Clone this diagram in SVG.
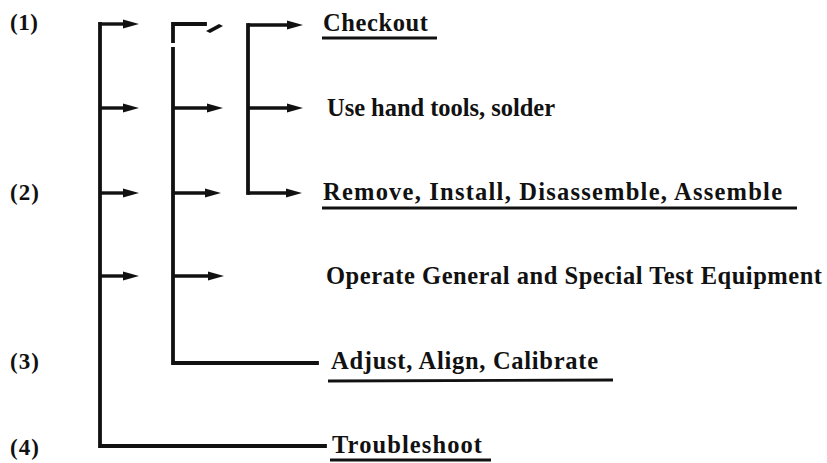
<svg xmlns="http://www.w3.org/2000/svg" width="827" height="463" viewBox="0 0 827 463">
  <style>
    .t { font-family: "Liberation Serif", "Times New Roman", serif; font-weight: bold; font-size: 24.5px; fill: #111; }
    .n { font-family: "Liberation Serif", "Times New Roman", serif; font-weight: bold; font-size: 23px; fill: #111; }
    .ln { stroke: #111; stroke-width: 3.8; fill: none; stroke-linecap: square; }
    .ar { stroke: #111; stroke-width: 3.4; fill: none; marker-end: url(#ah); }
    .ul { stroke: #111; stroke-width: 2.8; }
  </style>
  <defs>
    <marker id="ah" viewBox="0 0 16 10" refX="7" refY="5" markerWidth="16" markerHeight="10" markerUnits="userSpaceOnUse" orient="auto">
      <path d="M0,0.5 L16,5 L0,9.5 Z" fill="#111"/>
    </marker>
  </defs>
  <rect width="827" height="463" fill="#fff"/>

  <g id="connectors">
    <!-- column 1 -->
    <path class="ln" d="M100,24 L100,446 L325,446"/>
    <line class="ar" x1="100" y1="24" x2="130" y2="24"/>
    <line class="ar" x1="100" y1="108" x2="130" y2="108"/>
    <line class="ar" x1="100" y1="193" x2="130" y2="193"/>
    <line class="ar" x1="100" y1="276" x2="130" y2="276"/>
    <!-- column 2 -->
    <path class="ln" d="M173,41 L173,24 L205,24"/>
    <path class="ln" d="M173,49 L173,363 L317,363"/>
    <polygon points="206,31 219,24 223,26 210,33" fill="#111"/>
    <line class="ar" x1="173" y1="108" x2="214" y2="108"/>
    <line class="ar" x1="173" y1="193" x2="212" y2="193"/>
    <line class="ar" x1="173" y1="276" x2="215" y2="276"/>
    <!-- column 3 -->
    <path class="ln" d="M248,193 L248,25"/>
    <line class="ar" x1="248" y1="25" x2="294" y2="25"/>
    <line class="ar" x1="248" y1="108" x2="294" y2="108"/>
    <line class="ar" x1="248" y1="193" x2="293" y2="193"/>
  </g>

  <g id="label1"><text class="n" x="10" y="30" textLength="28">(1)</text></g>
  <g id="label2"><text class="n" x="10" y="200" textLength="29">(2)</text></g>
  <g id="label3"><text class="n" x="10" y="369" textLength="29">(3)</text></g>
  <g id="label4"><text class="n" x="10" y="455" textLength="29">(4)</text></g>

  <g id="checkout">
    <text class="t" x="323" y="31" textLength="105">Checkout</text>
    <line class="ul" x1="322" y1="38" x2="437" y2="38"/>
  </g>
  <g id="handtools">
    <text class="t" x="327" y="116" textLength="228">Use hand tools, solder</text>
  </g>
  <g id="remove">
    <text class="t" x="323" y="200" textLength="459">Remove, Install, Disassemble, Assemble</text>
    <line class="ul" x1="322" y1="208" x2="797" y2="208"/>
  </g>
  <g id="operate">
    <text class="t" x="326" y="284" textLength="496">Operate General and Special Test Equipment</text>
  </g>
  <g id="adjust">
    <text class="t" x="331" y="369" textLength="267">Adjust, Align, Calibrate</text>
    <line class="ul" x1="328" y1="381" x2="613" y2="380"/>
  </g>
  <g id="troubleshoot">
    <text class="t" x="332" y="453" textLength="150">Troubleshoot</text>
    <line class="ul" x1="330" y1="460" x2="491" y2="460"/>
  </g>
</svg>
